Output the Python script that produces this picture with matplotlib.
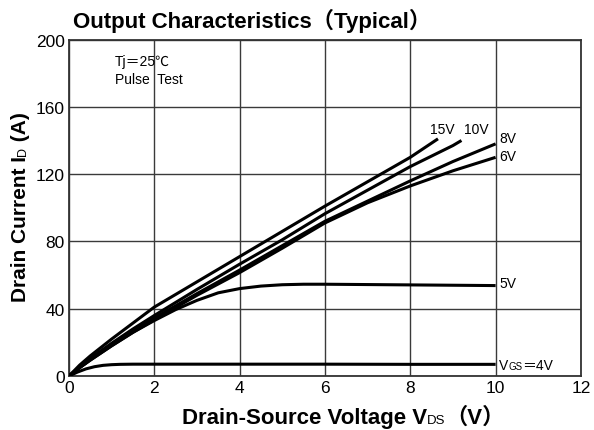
import matplotlib
matplotlib.use("Agg")
import matplotlib.pyplot as plt

plt.rcParams['font.family'] = ['Liberation Sans', 'Noto Sans CJK JP', 'DejaVu Sans']

# Drain current (A) versus drain-source voltage (V) for each gate voltage
vds_15 = [0, 0.25, 0.5, 1, 1.5, 2, 3, 4, 5, 6, 7, 8, 8.65]
id_15 = [0, 6.5, 12, 22, 31.5, 41, 56, 71, 86, 101, 115.5, 130, 141]

vds_10 = [0, 0.25, 0.5, 1, 1.5, 2, 3, 4, 5, 6, 7, 8, 9, 9.2]
id_10 = [0, 5.5, 10.5, 19.5, 28, 36, 51.5, 66.5, 81, 96.5, 110.5, 124.5, 137, 140]

vds_8 = [0, 0.25, 0.5, 1, 1.5, 2, 3, 4, 5, 6, 7, 8, 9, 10]
id_8 = [0, 5, 10, 18.5, 26.5, 34.5, 49, 63, 77.5, 92, 104, 116, 127.5, 138]

vds_6 = [0, 0.25, 0.5, 1, 1.5, 2, 3, 4, 5, 6, 7, 8, 9, 10]
id_6 = [0, 5, 9.5, 18, 26, 33.5, 48, 61.5, 76, 91, 103, 113, 122, 130]

vds_5 = [0, 0.25, 0.5, 1, 1.5, 2, 2.5, 3, 3.5, 4, 4.5, 5, 5.5, 6, 7, 8, 9, 10]
id_5 = [0, 5, 9.5, 18, 26, 33, 39.5, 45, 49.5, 52, 53.5, 54.3, 54.6, 54.6, 54.4, 54.2, 54, 53.8]

vds_4 = [0, 0.2, 0.4, 0.6, 0.8, 1.0, 1.2, 1.5, 2, 4, 6, 8, 10]
id_4 = [0, 2.4, 4.3, 5.6, 6.4, 6.8, 7.0, 7.1, 7.1, 7.1, 7.1, 7.0, 7.0]

x_ticks = [0, 2, 4, 6, 8, 10, 12]
y_ticks = [0, 40, 80, 120, 160, 200]

fig = plt.figure(figsize=(5.94, 4.31), dpi=100)
ax = fig.add_axes([0.116, 0.125, 0.862, 0.781])

ax.set_xlim(0, 12)
ax.set_ylim(0, 200)
ax.set_xticks(x_ticks)
ax.set_yticks(y_ticks)
ax.tick_params(length=0, labelsize=12.5, pad=3)
ax.grid(True, color='#3a3a3a', linewidth=1.0)
ax.set_axisbelow(True)
for s in ax.spines.values():
    s.set_linewidth(1.3)
    s.set_color('#333333')

curves = [(vds_15, id_15), (vds_10, id_10), (vds_8, id_8),
          (vds_6, id_6), (vds_5, id_5), (vds_4, id_4)]
for vx, iy in curves:
    ax.plot(vx, iy, color='black', linewidth=2.2, solid_capstyle='butt', zorder=3)

lab_fs = 10
ax.text(8.74, 147, '15V', fontsize=lab_fs, ha='center', va='center')
ax.text(9.54, 147, '10V', fontsize=lab_fs, ha='center', va='center')
ax.text(10.08, 141.5, '8V', fontsize=lab_fs, ha='left', va='center')
ax.text(10.08, 130.5, '6V', fontsize=lab_fs, ha='left', va='center')
ax.text(10.08, 55.3, '5V', fontsize=lab_fs, ha='left', va='center')

ax.text(1.08, 187, 'Tj＝25℃', fontsize=10, ha='left', va='center')
ax.text(1.08, 176.5, 'Pulse  Test', fontsize=10, ha='left', va='center')

fig.text(0.123, 0.952, 'Output Characteristics（Typical）', fontsize=16,
         fontweight='bold', ha='left', va='center')

renderer = fig.canvas.get_renderer()


def place_row(pieces, x0, y0, rotation=0):
    """Lay text pieces end to end starting at (x0, y0) in pixels."""
    pos = 0.0
    made = []
    for txt, fs, weight in pieces:
        if rotation == 0:
            t = fig.text(0, 0, txt, fontsize=fs, fontweight=weight,
                         ha='left', va='baseline', transform=None)
            t.set_position((x0 + pos, y0))
            w = t.get_window_extent(renderer).width
        else:
            t = fig.text(0, 0, txt, fontsize=fs, fontweight=weight,
                         ha='left', va='baseline', rotation=90,
                         rotation_mode='anchor', transform=None)
            t.set_position((x0, y0 + pos))
            w = t.get_window_extent(renderer).height
        made.append(t)
        pos += w
    return pos, made


def centred_row(pieces, cx, cy, rotation=0):
    width, made = place_row(pieces, -1000, -1000, rotation)
    for t in made:
        t.remove()
    if rotation == 0:
        place_row(pieces, cx - width / 2, cy, rotation)
    else:
        place_row(pieces, cx, cy - width / 2, rotation)


H = fig.get_size_inches()[1] * fig.dpi

# x-axis label
xpieces = [('Drain-Source Voltage V', 16, 'bold'),
           ('DS', 9.5, 'normal'),
           ('（V）', 16, 'bold')]
centred_row(xpieces, 343, H - 424)

# y-axis label
ypieces = [('Drain Current I', 15, 'bold'),
           ('D', 9, 'normal'),
           (' (A)', 15, 'bold')]
centred_row(ypieces, 26, H - 207, rotation=90)

# gate-voltage label for the lowest curve
vpx, vpy = ax.transData.transform((10.08, 6.5))
vpieces = [('V', 10, 'normal'), ('GS', 7, 'normal'), ('＝4V', 10, 'normal')]
place_row(vpieces, vpx, vpy - 4)

fig.savefig('out.png', dpi=100)
